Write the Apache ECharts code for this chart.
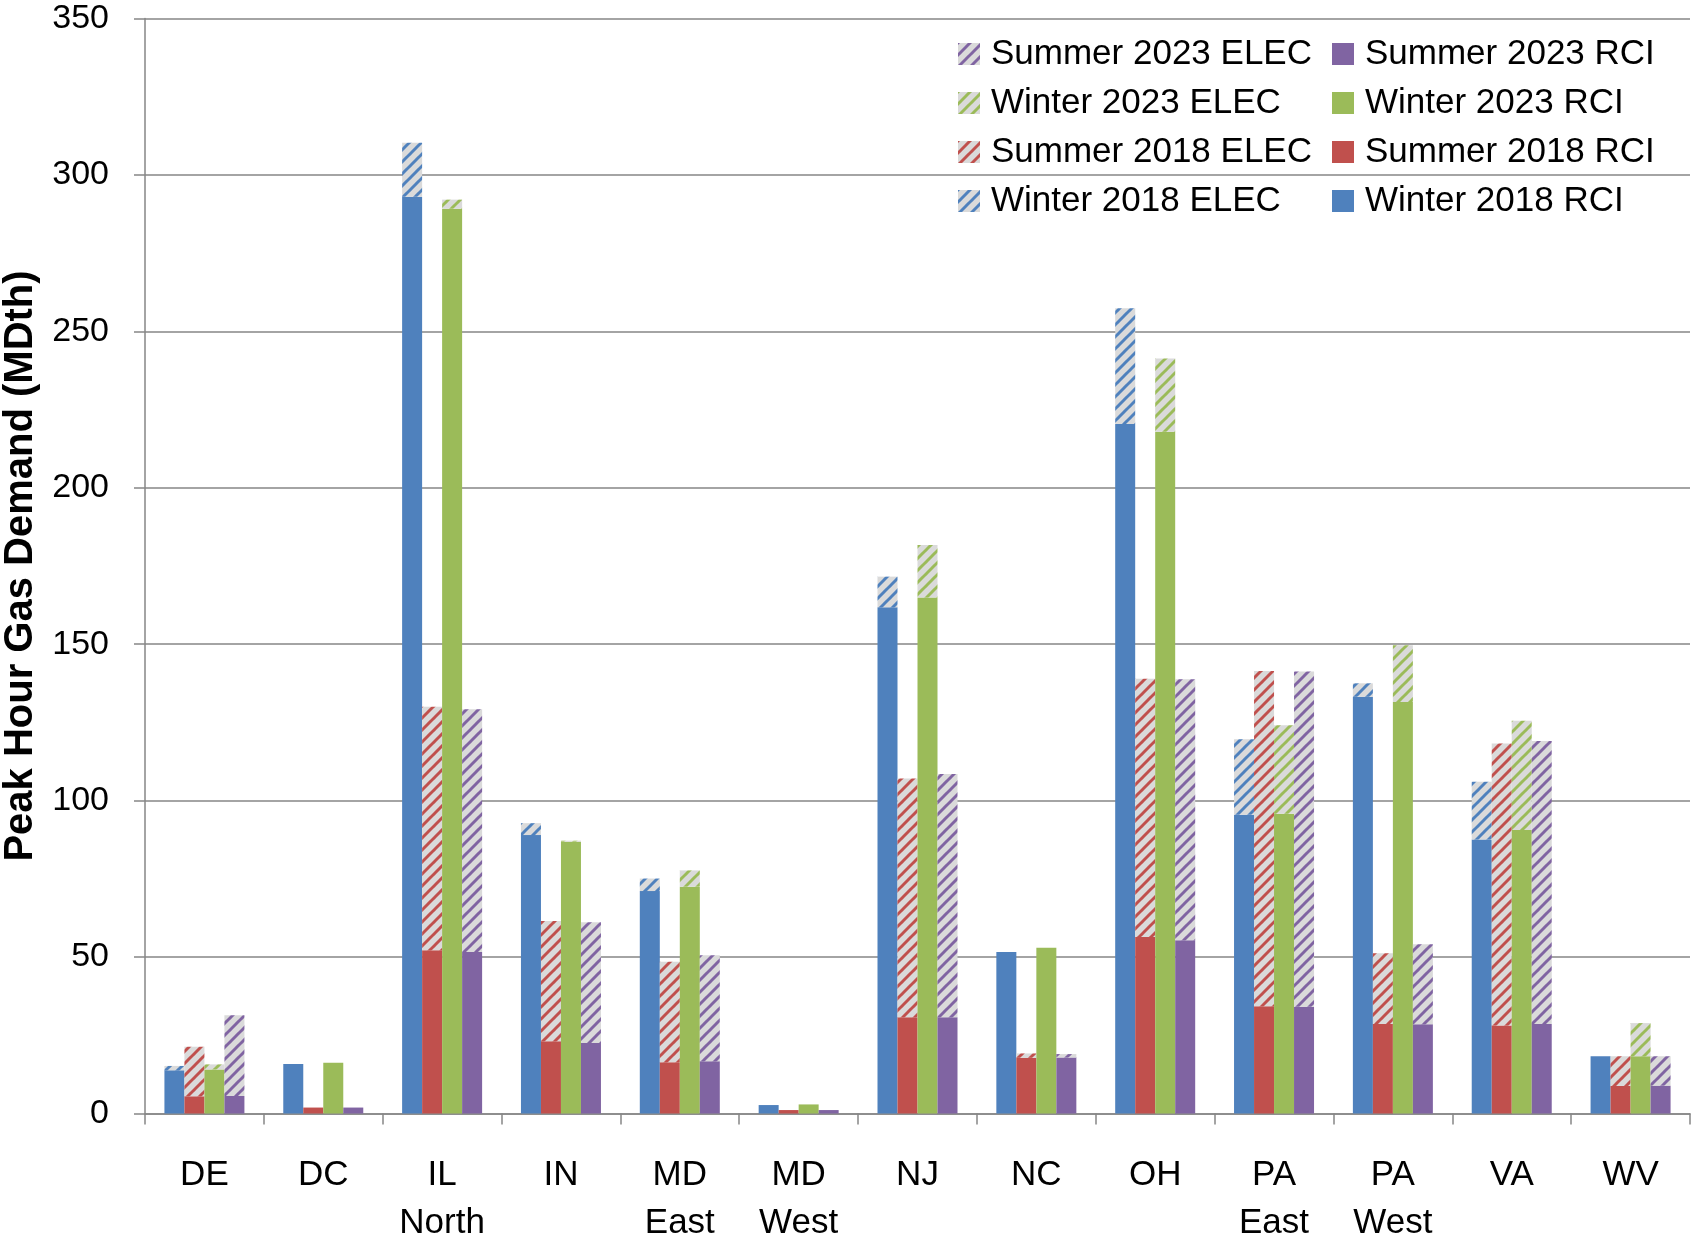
<!DOCTYPE html>
<html>
<head>
<meta charset="utf-8">
<script src="https://cdn.jsdelivr.net/npm/echarts@6/dist/echarts.min.js"></script>
<style>
html,body{margin:0;padding:0;background:#fff;}
#chart{width:1692px;height:1241px;}
</style>
</head>
<body>
<div id="chart"></div>
<script>
var categories = ['DE', 'DC', 'IL\nNorth', 'IN', 'MD\nEast', 'MD\nWest', 'NJ', 'NC', 'OH', 'PA\nEast', 'PA\nWest', 'VA', 'WV'];
var winter2018RCI  = [13.8, 15.8, 293.0, 89.0, 71.1, 2.7, 161.8, 51.6, 220.4, 95.5, 133.2, 87.6, 18.3];
var winter2018ELEC = [1.4, 0, 17.3, 3.8, 4.0, 0, 9.8, 0, 37.0, 24.1, 4.3, 18.4, 0];
var summer2018RCI  = [5.5, 1.9, 52.2, 23.1, 16.4, 1.1, 30.8, 17.8, 56.4, 34.3, 28.6, 28.1, 8.8];
var summer2018ELEC = [15.8, 0, 77.8, 38.4, 32.1, 0, 76.3, 1.4, 82.6, 107.1, 22.6, 90.2, 9.5];
var winter2023RCI  = [14.1, 16.2, 289.2, 86.9, 72.5, 2.9, 164.9, 53.0, 217.9, 95.8, 131.5, 90.6, 18.3];
var winter2023ELEC = [1.6, 0, 2.9, 0.3, 5.2, 0, 16.8, 0, 23.4, 28.3, 18.2, 34.9, 10.6];
var summer2023RCI  = [5.6, 1.9, 51.6, 22.5, 16.7, 1.1, 30.8, 17.9, 55.4, 34.1, 28.5, 28.6, 8.9];
var summer2023ELEC = [25.8, 0, 77.6, 38.6, 33.9, 0, 77.7, 1.1, 83.4, 107.2, 25.6, 90.5, 9.4];
var yTicks = [0, 50, 100, 150, 200, 250, 300, 350];

var BLUE = '#4F81BD', RED = '#C0504D', GREEN = '#9BBB59', PURPLE = '#8064A2';
var FONT = '"Liberation Sans", Arial, sans-serif';

function hatch(color) {
  var s = 12;
  var c = document.createElement('canvas');
  c.width = s; c.height = s;
  var ctx = c.getContext('2d');
  ctx.fillStyle = '#DADADA';
  ctx.fillRect(0, 0, s, s);
  ctx.strokeStyle = color;
  ctx.lineWidth = 3;
  for (var k = -s; k <= s; k += s) {
    ctx.beginPath();
    ctx.moveTo(k - 1, s + 1);
    ctx.lineTo(k + s + 1, -1);
    ctx.stroke();
  }
  return { image: c, repeat: 'repeat' };
}

function bar(name, data, stack, color) {
  return {
    name: name, type: 'bar', stack: stack, data: data,
    barWidth: 20, barGap: '0%',
    itemStyle: { color: color },
    emphasis: { disabled: true }
  };
}

var series = [
  bar('Winter 2018 RCI', winter2018RCI, 'w18', BLUE),
  bar('Winter 2018 ELEC', winter2018ELEC, 'w18', hatch(BLUE)),
  bar('Summer 2018 RCI', summer2018RCI, 's18', RED),
  bar('Summer 2018 ELEC', summer2018ELEC, 's18', hatch(RED)),
  bar('Winter 2023 RCI', winter2023RCI, 'w23', GREEN),
  bar('Winter 2023 ELEC', winter2023ELEC, 'w23', hatch(GREEN)),
  bar('Summer 2023 RCI', summer2023RCI, 's23', PURPLE),
  bar('Summer 2023 ELEC', summer2023ELEC, 's23', hatch(PURPLE))
];

var legendCommon = {
  orient: 'vertical', top: 31, itemWidth: 22, itemHeight: 22, itemGap: 13,
  icon: 'rect', selectedMode: false,
  textStyle: { fontFamily: FONT, fontSize: 35, color: '#000', lineHeight: 36, padding: [0, 0, 0, 6] }
};

var chart = echarts.init(document.getElementById('chart'));
chart.setOption({
  animation: false,
  backgroundColor: '#fff',
  grid: { left: 145, right: 2, top: 18.5, bottom: 127.5, containLabel: false, outerBoundsMode: 'none' },
  legend: [
    Object.assign({}, legendCommon, { left: 953, data: ['Summer 2023 ELEC', 'Winter 2023 ELEC', 'Summer 2018 ELEC', 'Winter 2018 ELEC'] }),
    Object.assign({}, legendCommon, { left: 1327, data: ['Summer 2023 RCI', 'Winter 2023 RCI', 'Summer 2018 RCI', 'Winter 2018 RCI'] })
  ],
  xAxis: {
    type: 'category', data: categories,
    axisLine: { lineStyle: { color: '#868686', width: 1.5 } },
    axisTick: { show: true, length: 11, interval: 0, lineStyle: { color: '#868686', width: 1.5 } },
    axisLabel: { interval: 0, color: '#000', fontFamily: FONT, fontSize: 35, lineHeight: 48, margin: 38 }
  },
  yAxis: {
    type: 'value', min: yTicks[0], max: yTicks[yTicks.length - 1], interval: yTicks[1] - yTicks[0],
    name: 'Peak Hour Gas Demand (MDth)', nameLocation: 'middle', nameRotate: 90, nameGap: 100,
    nameTextStyle: { fontFamily: FONT, fontSize: 40, fontWeight: 'bold', color: '#000' },
    axisLine: { show: true, lineStyle: { color: '#868686', width: 1.5 } },
    axisTick: { show: true, length: 11, lineStyle: { color: '#868686', width: 1.5 } },
    axisLabel: { color: '#000', fontFamily: FONT, fontSize: 34, margin: 36 },
    splitLine: { lineStyle: { color: '#868686', width: 1.5 } }
  },
  series: series
});
</script>
</body>
</html>
